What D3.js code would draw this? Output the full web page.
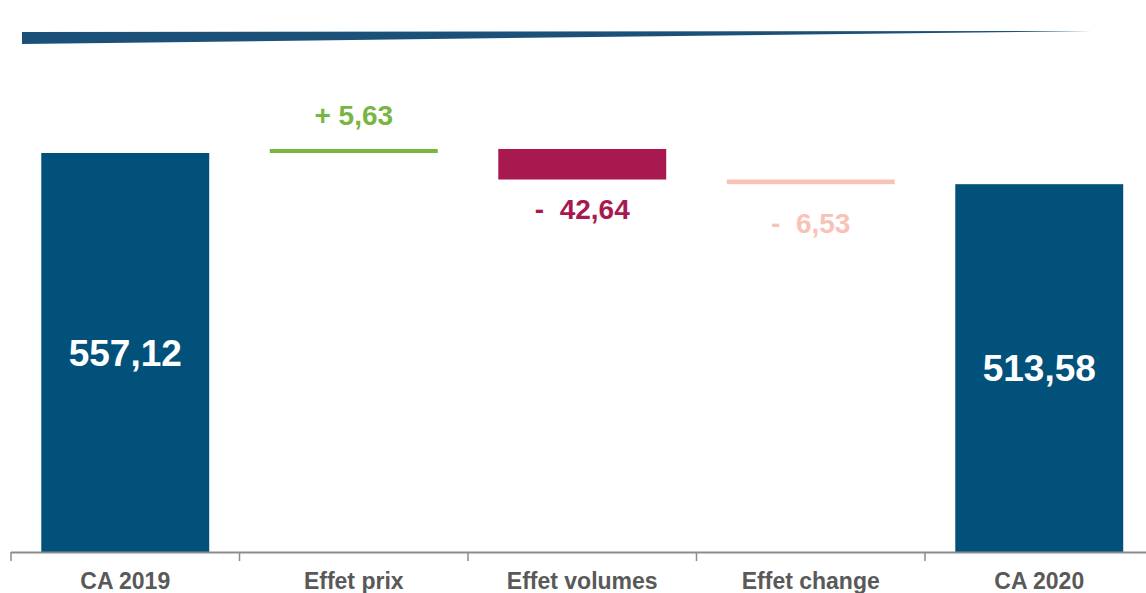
<!DOCTYPE html>
<html>
<head>
<meta charset="utf-8">
<script src="https://cdn.jsdelivr.net/npm/d3@7"></script>
<style>
    html, body { margin: 0; padding: 0; background: #fff; }
    svg { display: block; font-family: "Liberation Sans", Arial, sans-serif; }
    text { white-space: pre; }
</style>
</head>
<body>
<svg id="chart" width="1146" height="593"></svg>
<script>
/*globals d3 */

// Bridge from CA 2019 to CA 2020 (M EUR).
var categories = ["CA 2019", "Effet prix", "Effet volumes", "Effet change", "CA 2020"];
var values = [557.12, 5.63, -42.64, -6.53, 513.58];
var kinds = ["total", "delta", "delta", "delta", "total"];

var colors = {
    total: "#02517a",
    up: "#79b543",
    down: "#a8194f",
    downLight: "#f9c2b7"
};

function build() {
    var running = 0;

    return categories.map(function (c, i) {
        var v = values[i],
            d = {name: c, value: v, kind: kinds[i]};

        if (kinds[i] === "total") {
            d.start = 0;
            d.end = v;
            running = v;
        } else {
            d.start = running;
            d.end = running + v;
            running = d.end;
        }
        return d;
    });
}

function label(d) {
    var fmt = d3.formatLocale({decimal: ",", thousands: " ", grouping: [3], currency: ["", ""]}).format(".2f");

    if (d.kind === "total") {
        return fmt(d.value);
    }
    return d.value >= 0 ? "+ " + fmt(d.value) : "-  " + fmt(-d.value);
}

function barColor(d) {
    if (d.kind === "total") {
        return colors.total;
    }
    if (d.value >= 0) {
        return colors.up;
    }
    return Math.abs(d.value) > 20 ? colors.down : colors.downLight;
}

function draw() {
    var svg = d3.select("#chart"),
        data = build(),
        baseline = 552,
        x,
        y,
        axis;

    // Title rule (tapered band).
    svg.append("polygon")
        .attr("points", "22,32 1092,31 22,44")
        .style("fill", "#1b5178");

    x = d3.scaleBand()
        .domain(categories)
        .range([11, 1153.5])
        .paddingInner(0.265)
        .paddingOuter(0.1325);

    y = d3.scaleLinear()
        .domain([0, 557.12])
        .range([baseline, 153]);

    svg.selectAll("rect.bar")
        .data(data)
        .enter()
        .append("rect")
        .classed("bar", true)
        .attr("x", function (d) { return x(d.name); })
        .attr("width", x.bandwidth())
        .attr("y", function (d) { return y(Math.max(d.start, d.end)); })
        .attr("height", function (d) { return Math.abs(y(d.start) - y(d.end)); })
        .style("fill", barColor);

    // Axis with ticks between the categories.
    axis = svg.append("g").attr("class", "axis");

    axis.append("line")
        .attr("x1", x.range()[0])
        .attr("x2", 1146)
        .attr("y1", baseline + 0.5)
        .attr("y2", baseline + 0.5)
        .style("stroke", "#8c8c8c")
        .style("stroke-width", 2);

    axis.selectAll("line.tick")
        .data(categories)
        .enter()
        .append("line")
        .classed("tick", true)
        .attr("x1", function (d) { return x(d) - x.step() * x.paddingOuter(); })
        .attr("x2", function (d) { return x(d) - x.step() * x.paddingOuter(); })
        .attr("y1", baseline)
        .attr("y2", baseline + 9)
        .style("stroke", "#8c8c8c")
        .style("stroke-width", 1.5);

    axis.selectAll("text")
        .data(categories)
        .enter()
        .append("text")
        .attr("x", function (d) { return x(d) + x.bandwidth() / 2; })
        .attr("y", 589)
        .attr("text-anchor", "middle")
        .style("font-size", "23px")
        .style("font-weight", "bold")
        .style("fill", "#595959")
        .text(function (d) { return d; });

    // Totals: white labels inside the bars.
    svg.selectAll("text.total")
        .data(data.filter(function (d) { return d.kind === "total"; }))
        .enter()
        .append("text")
        .classed("total", true)
        .attr("x", function (d) { return x(d.name) + x.bandwidth() / 2; })
        .attr("y", function (d) { return (y(d.end) + baseline) / 2 + 13; })
        .attr("text-anchor", "middle")
        .style("font-size", "37px")
        .style("font-weight", "bold")
        .style("fill", "#fff")
        .text(label);

    // Deltas: coloured labels above (gain) or below (loss) the step.
    svg.selectAll("text.delta")
        .data(data.filter(function (d) { return d.kind === "delta"; }))
        .enter()
        .append("text")
        .classed("delta", true)
        .attr("x", function (d) { return x(d.name) + x.bandwidth() / 2; })
        .attr("y", function (d) {
            if (d.value >= 0) {
                return y(d.end) - 24;
            }
            return y(d.end) + (Math.abs(d.value) > 20 ? 39 : 49);
        })
        .attr("text-anchor", "middle")
        .style("font-size", "28px")
        .style("font-weight", "bold")
        .style("fill", barColor)
        .text(label);
}

draw();
</script>
</body>
</html>
